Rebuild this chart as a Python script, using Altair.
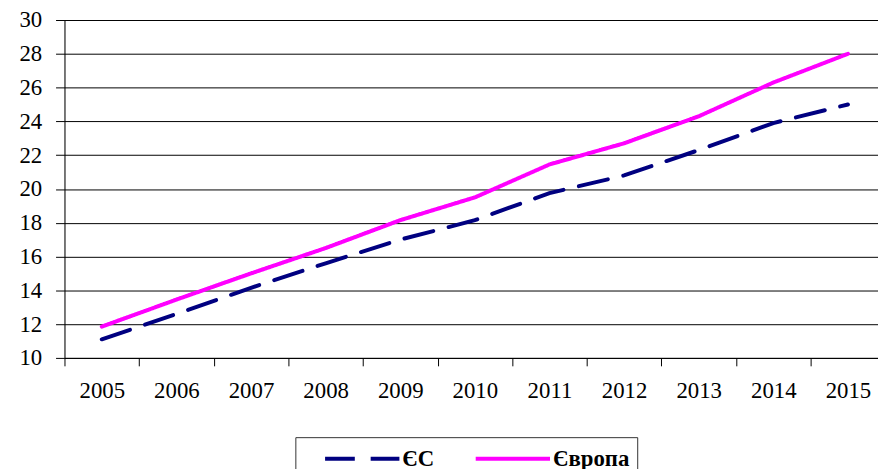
import altair as alt
import pandas as pd

years = list(range(2005, 2016))
es_values = [11.1, 12.6, 14.15, 15.6, 17.0, 18.15, 19.75, 20.8, 22.3, 23.9, 25.0]
europe_values = [11.85, 13.45, 15.0, 16.5, 18.15, 19.5, 21.45, 22.7, 24.3, 26.3, 28.0]
series_names = ["ЄС", "Європа"]
y_ticks = list(range(10, 31, 2))

rows = []
for y, v in zip(years, es_values):
    rows.append({"year": y, "value": v, "series": series_names[0]})
for y, v in zip(years, europe_values):
    rows.append({"year": y, "value": v, "series": series_names[1]})
df = pd.DataFrame(rows)

FONT = "Liberation Serif"
half_band = 75.3 / 2

chart = alt.Chart(df).mark_line(strokeWidth=4, strokeCap="round").encode(
    x=alt.X("year:Q",
            scale=alt.Scale(domain=[2004.5, 2015.403], nice=False, zero=False),
            axis=alt.Axis(values=years, format="d", title=None, grid=False,
                          tickOffset=-half_band, labelOffset=half_band,
                          tickSize=8, tickColor="black", domainColor="black",
                          labelFont=FONT, labelFontSize=23, labelColor="black",
                          labelPadding=14, labelFlush=False, labelOverlap=False)),
    y=alt.Y("value:Q",
            scale=alt.Scale(domain=[10, 30], nice=False, zero=False),
            axis=alt.Axis(values=y_ticks, title=None, grid=True, gridColor="black",
                          gridOpacity=1, gridWidth=1, tickSize=9, tickColor="black",
                          domainColor="black", labelFont=FONT, labelFontSize=23,
                          labelColor="black", labelPadding=14)),
    color=alt.Color("series:N",
                    scale=alt.Scale(domain=series_names, range=["#000080", "#FF00FF"]),
                    legend=alt.Legend(title=None, orient="none", legendX=233, legendY=421,
                                      direction="horizontal", columns=2,
                                      symbolType="M-3,0H3", symbolSize=625,
                                      symbolStrokeWidth=4, labelFont=FONT,
                                      labelFontSize=23, labelFontWeight="bold",
                                      labelColor="black", labelOffset=26,
                                      columnPadding=18, symbolOffset=46,
                                      padding=7, strokeColor="#333333",
                                      fillColor="white")),
    strokeDash=alt.StrokeDash("series:N",
                              scale=alt.Scale(domain=series_names, range=[[30, 16], [1, 0]]),
                              legend=None),
).properties(
    width=821, height=341,
    autosize=alt.AutoSizeParams(type="none"),
    padding={"left": 57, "top": 10, "right": 0, "bottom": 110},
).configure_view(stroke=None).configure(background="white")

chart.save("out.html", embed_options={"renderer": "svg", "actions": False})
